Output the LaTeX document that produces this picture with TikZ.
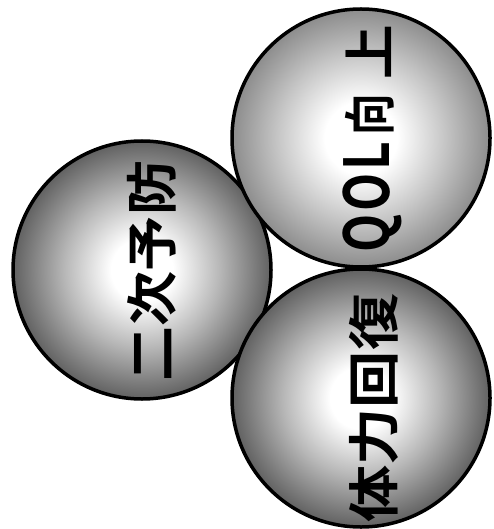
\documentclass[tikz,border=0pt]{standalone}
\usepackage{fontspec}
\newfontfamily\cjk{Noto Sans CJK JP}[BoldFont={Noto Sans CJK JP Bold}]
\pgfdeclareradialshading{sphdark}{\pgfpoint{0bp}{0bp}}{color(0bp)=(white); color(6bp)=(white); color(15bp)=(black!28); color(25bp)=(black!62); color(50bp)=(black!62)}
\pgfdeclareradialshading{sphlight}{\pgfpoint{0bp}{0bp}}{color(0bp)=(white); color(7bp)=(white); color(16bp)=(black!22); color(25bp)=(black!45); color(50bp)=(black!45)}
\tikzset{
  ball/.style={circle, draw=black, line width=3.5pt, minimum size=258pt, inner sep=0pt, shading=#1},
  lbl/.style={rotate=90, font=\cjk\bfseries\fontsize{52}{52}\selectfont, text=black, inner sep=0pt}
}
\begin{document}
\begin{tikzpicture}[x=1pt,y=-1pt]
\useasboundingbox (0,0) rectangle (493,529);
\node[ball=sphdark] (b1) at (142,270) {};
\node[ball=sphlight] (b2) at (361,138) {};
\node[ball=sphdark] (b3) at (361,398) {};
\node[lbl] (t1) at (152,271) {\scalebox{1.06}[1]{二次予防}};
\node[lbl] (t2) at (372,139) {\scalebox{0.8}[1]{\fontsize{62}{62}\selectfont Q\hspace{4pt}O\hspace{4pt}L}\hspace{6pt}\scalebox{0.8}[1]{向}\hspace{14pt}\scalebox{1.05}[1]{上}};
\node[lbl] (t3) at (374,408) {\scalebox{1.1}[1]{体力回復}};
\end{tikzpicture}
\end{document}
